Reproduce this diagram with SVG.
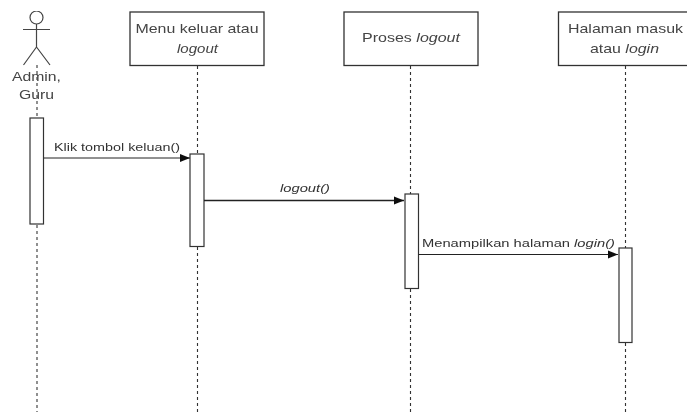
<svg xmlns="http://www.w3.org/2000/svg" width="687" height="412" viewBox="0 0 687 412">
<style>
.box{fill:#fff;stroke:#333;stroke-width:1.3}
.act{fill:#fff;stroke:#333;stroke-width:1.2}
.life{stroke:#333;stroke-width:1.1;stroke-dasharray:3 3;fill:none}
.msg{stroke:#222;stroke-width:1;fill:none}
text{font-family:"Liberation Sans",Arial,sans-serif;font-size:13px;fill:#444;text-anchor:middle}
.m{font-size:11.5px;fill:#333}
.it{font-style:italic}
</style>
<defs>
<marker id="arrow" markerUnits="userSpaceOnUse" markerWidth="12" markerHeight="10" refX="11" refY="5" orient="auto"><path d="M1 1 L11 5 L1 9 Z" fill="#111"/></marker>
<filter id="soft" x="0" y="0" width="100%" height="100%"><feGaussianBlur stdDeviation="0.45"/></filter>
</defs>
<rect width="687" height="412" fill="#fff"/>
<g filter="url(#soft)">
<g id="lifelines">
<path class="life" d="M37 65V118M37 225V412"/>
<path class="life" d="M197.500 66V154M197.500 247V412"/>
<path class="life" d="M410.500 66V194M410.500 289V412"/>
<path class="life" d="M625.500 66V248M625.500 343V412"/>
</g>
<g id="actor-admin">
<circle cx="36.500" cy="17.500" r="6.500" fill="#fff" stroke="#444" stroke-width="1.2"/>
<path d="M36.500 24V47M23 29.500H50M36.500 47L23.500 65M36.500 47L50 65" fill="none" stroke="#444" stroke-width="1.2"/>
<text x="36.500" y="81" textLength="49" lengthAdjust="spacingAndGlyphs">Admin,</text>
<text x="36.500" y="99" textLength="35" lengthAdjust="spacingAndGlyphs">Guru</text>
</g>
<g id="node-menu">
<rect class="box" x="130" y="12" width="134" height="53.500"/>
<text x="197" y="33" textLength="123" lengthAdjust="spacingAndGlyphs">Menu keluar atau</text>
<text x="197.500" y="53" class="it" textLength="41" lengthAdjust="spacingAndGlyphs">logout</text>
</g>
<g id="node-proses">
<rect class="box" x="344" y="12" width="134" height="53.500"/>
<text x="411" y="42" textLength="98" lengthAdjust="spacingAndGlyphs">Proses <tspan class="it">logout</tspan></text>
</g>
<g id="node-halaman">
<rect class="box" x="558.500" y="12" width="130" height="53.500"/>
<text x="625.500" y="33" textLength="115" lengthAdjust="spacingAndGlyphs">Halaman masuk</text>
<text x="624.500" y="53" textLength="69" lengthAdjust="spacingAndGlyphs">atau <tspan class="it">login</tspan></text>
</g>
<g id="activations">
<rect class="act" x="30" y="118" width="13.500" height="106"/>
<rect class="act" x="190" y="154" width="14" height="92.500"/>
<rect class="act" x="405" y="194" width="13.500" height="94.500"/>
<rect class="act" x="619" y="248" width="13" height="94.500"/>
</g>
<g id="connectors">
<path class="msg" d="M44 158H190" marker-end="url(#arrow)"/>
<path class="msg" style="stroke-width:1.5" d="M204 200.500H404" marker-end="url(#arrow)"/>
<path class="msg" d="M418.500 254.500H618" marker-end="url(#arrow)"/>
<text class="m" x="117" y="151" textLength="126" lengthAdjust="spacingAndGlyphs">Klik tombol keluan()</text>
<text class="m it" x="305" y="192" textLength="50" lengthAdjust="spacingAndGlyphs">logout()</text>
<text class="m" x="518.500" y="247" textLength="193" lengthAdjust="spacingAndGlyphs">Menampilkan halaman <tspan class="it">login()</tspan></text>
</g>
</g>
</svg>
